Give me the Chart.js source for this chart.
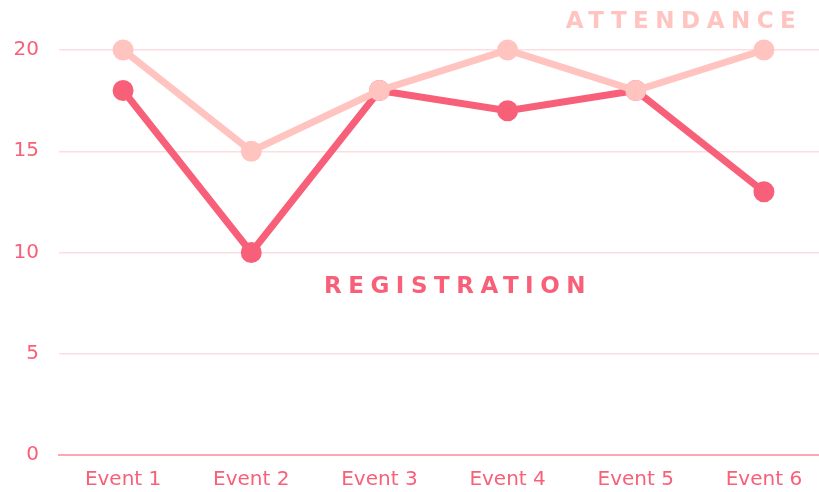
<!DOCTYPE html>
<html>
<head>
<meta charset="utf-8">
<script src="https://cdn.jsdelivr.net/npm/chart.js@4"></script>
<style>
  html, body { margin: 0; padding: 0; background: #fff; overflow: hidden; }
</style>
</head>
<body>
<canvas id="eventChart" width="842" height="492"></canvas>
<script>
// data
const events = ["Event 1", "Event 2", "Event 3", "Event 4", "Event 5", "Event 6"];
const attendance = [20, 15, 18, 20, 18, 20];
const registration = [18, 10, 18, 17, 18, 13];
const yTicks = [0, 5, 10, 15, 20];

const FONT = "'DejaVu Sans', sans-serif";
const PINK = "#f8607a";
const LIGHT = "#ffc4c0";

// series names written straight on the chart
const seriesLabels = {
    id: "seriesLabels",
    afterDatasetsDraw(chart) {
        const ctx = chart.ctx;
        ctx.save();
        ctx.font = "600 23px " + FONT;
        ctx.textAlign = "center";
        ctx.textBaseline = "middle";
        ctx.letterSpacing = "6.5px";
        ctx.fillStyle = LIGHT;
        ctx.fillText("ATTENDANCE", 684, 22);
        ctx.fillStyle = PINK;
        ctx.fillText("REGISTRATION", 458, 287);
        ctx.restore();
    }
};

new Chart(document.getElementById("eventChart"), {
    type: "line",
    data: {
        labels: events,
        datasets: [
            {
                label: "Attendance",
                data: attendance,
                borderColor: LIGHT,
                backgroundColor: LIGHT,
                borderWidth: 7,
                pointRadius: 7,
                pointHoverRadius: 7,
                tension: 0,
                clip: false
            },
            {
                label: "Registration",
                data: registration,
                borderColor: PINK,
                backgroundColor: PINK,
                borderWidth: 7,
                pointRadius: 7,
                pointHoverRadius: 7,
                tension: 0,
                clip: false
            }
        ]
    },
    options: {
        responsive: false,
        animation: false,
        layout: { padding: { top: 50, left: 0, right: 2, bottom: 0 } },
        plugins: {
            legend: { display: false },
            tooltip: { enabled: false }
        },
        scales: {
            x: {
                offset: true,
                grid: { display: false, drawTicks: false },
                border: { color: "#fda7b3", width: 2 },
                ticks: { color: PINK, font: { family: FONT, size: 20 }, padding: 13, maxRotation: 0, autoSkip: false },
                afterFit(axis) { axis.height = 37; }
            },
            y: {
                min: 0,
                max: 20,
                afterBuildTicks(axis) { axis.ticks = yTicks.map(v => ({ value: v })); },
                grid: { color: "#fcdde2", lineWidth: 1.5, drawTicks: false },
                border: { display: false },
                ticks: { color: PINK, font: { family: FONT, size: 20 }, padding: 20 },
                afterFit(axis) { axis.width = 59; }
            }
        }
    },
    plugins: [seriesLabels]
});
</script>
</body>
</html>
